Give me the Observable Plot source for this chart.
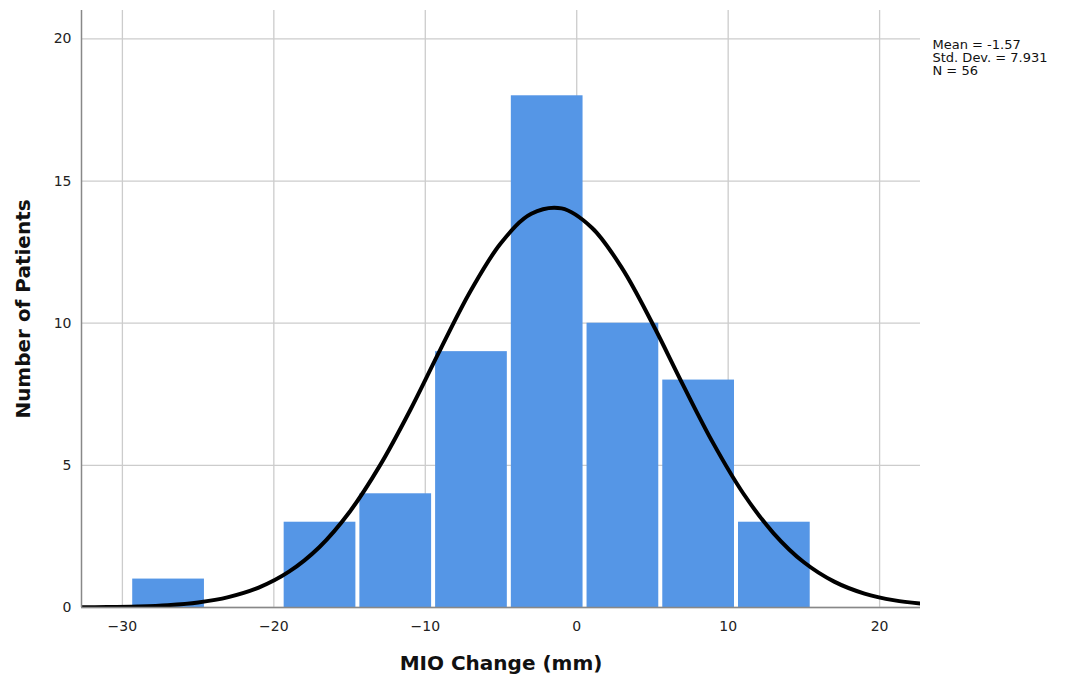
<!DOCTYPE html>
<html>
<head>
<meta charset="utf-8">
<script src="https://cdn.jsdelivr.net/npm/d3@7"></script>
<script src="https://cdn.jsdelivr.net/npm/@observablehq/plot@0.6"></script>
<style>
  html, body { margin: 0; padding: 0; background: #fff; }
</style>
</head>
<body>
<div id="chart"></div>
<script>
// Histogram bins (lower edge, upper edge) and counts
const binStart = [-29.45, -24.45, -19.45, -14.45, -9.45, -4.45, 0.55, 5.55, 10.55];
const binEnd   = [-24.45, -19.45, -14.45, -9.45, -4.45, 0.55, 5.55, 10.55, 15.55];
const counts   = [1, 0, 3, 4, 9, 18, 10, 8, 3];

// Normal curve (x, height)
const curveX = [-33, -31, -29, -27, -25, -23, -21, -19, -17, -15, -13, -11, -9, -7, -5, -3, -1, 1, 3, 5, 7, 9, 11, 13, 15, 17, 19, 21, 23];
const curveY = [0.006, 0.014, 0.036, 0.082, 0.179, 0.366, 0.70, 1.26, 2.12, 3.36, 4.99, 6.94, 9.08, 11.14, 12.82, 13.85, 14.04, 13.36, 11.93, 9.99, 7.85, 5.79, 4.01, 2.61, 1.59, 0.91, 0.49, 0.25, 0.12];

const xTicks = [-30, -20, -10, 0, 10, 20];
const yTicks = [0, 5, 10, 15, 20];
const statsLines = ["Mean = -1.57", "Std. Dev. = 7.931", "N = 56"];

const bars = counts.map((c, i) => ({x1: binStart[i], x2: binEnd[i], y: c})).filter(d => d.y > 0);
const curve = curveX.map((x, i) => ({x, y: curveY[i]}));
const fmt = d => d < 0 ? "\u2212" + Math.abs(d) : String(d);

const chart = Plot.plot({
  width: 1071,
  height: 681,
  marginLeft: 81,
  marginRight: 151,
  marginTop: 10,
  marginBottom: 74,
  style: {fontFamily: "DejaVu Sans, sans-serif", fontSize: "14px", color: "#222"},
  x: {domain: [-32.7, 22.7], label: null},
  y: {domain: [0, 21], label: null},
  marks: [
    Plot.gridX(xTicks, {stroke: "#cccccc", strokeOpacity: 1, strokeWidth: 1.3}),
    Plot.gridY(yTicks, {stroke: "#cccccc", strokeOpacity: 1, strokeWidth: 1.3}),
    Plot.rectY(bars, {x1: "x1", x2: "x2", y: "y", fill: "#5596e6", insetLeft: 2, insetRight: 2}),
    Plot.line(curve, {x: "x", y: "y", curve: "catmull-rom", stroke: "#000", strokeWidth: 4, clip: true}),
    Plot.axisX({ticks: xTicks, tickFormat: fmt, tickSize: 0, tickPadding: 14, label: null, fontSize: 14}),
    Plot.axisY({ticks: yTicks, tickSize: 0, tickPadding: 10, label: null, fontSize: 14}),
    Plot.axisY({ticks: [], tickSize: 0, label: "Number of Patients", labelAnchor: "center", labelArrow: false, labelOffset: 66, fontSize: 20, fontWeight: "bold", fill: "#111"}),
    Plot.ruleY([0], {stroke: "#888", strokeWidth: 1.5}),
    Plot.ruleX([-32.7], {stroke: "#888", strokeWidth: 1.5}),
    Plot.text([statsLines.join("\n")], {frameAnchor: "top-right", textAnchor: "start", lineAnchor: "top", dx: 12, dy: 29, fontSize: 13, lineHeight: 1.0, fill: "#111"}),
    Plot.text(["MIO Change (mm)"], {frameAnchor: "bottom", dy: 62, fontSize: 20, fontWeight: "bold", fill: "#111"})
  ]
});
document.getElementById("chart").appendChild(chart);
</script>
</body>
</html>
